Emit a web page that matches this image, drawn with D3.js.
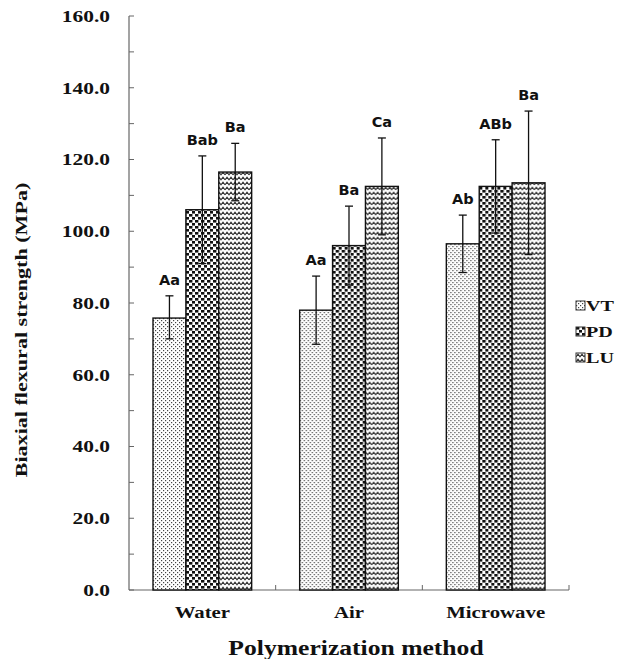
<!DOCTYPE html>
<html>
<head>
<meta charset="utf-8">
<script src="https://cdn.jsdelivr.net/npm/d3@7/dist/d3.min.js"></script>
<style>
  body { margin: 0; background: #fff; }
  svg text { fill: #111; }
  .serif { font-family: 'Liberation Serif', serif; font-weight: bold; }
</style>
</head>
<body>
<div id="chart"></div>
<script>
// ---------------- data ----------------
var methods = ["Water", "Air", "Microwave"];
var series = ["VT", "PD", "LU"];
var means = {
  VT: [75.8, 78.0, 96.5],
  PD: [106.0, 96.0, 112.5],
  LU: [116.5, 112.5, 113.5]
};
var errUp = {
  VT: [82.0, 87.5, 104.5],
  PD: [121.0, 107.0, 125.5],
  LU: [124.5, 126.0, 133.5]
};
var errLow = {
  VT: [70.0, 68.5, 88.5],
  PD: [91.0, 85.0, 99.5],
  LU: [108.5, 99.0, 93.5]
};
var letters = {
  VT: ["Aa", "Aa", "Ab"],
  PD: ["Bab", "Ba", "ABb"],
  LU: ["Ba", "Ca", "Ba"]
};
var yTicks = [0, 20, 40, 60, 80, 100, 120, 140, 160];

// ---------------- layout ----------------
var W = 633, H = 659;
var margin = {top: 16, right: 64, bottom: 69, left: 129};
var width = W - margin.left - margin.right,
    height = H - margin.top - margin.bottom;
var stretch = 1.3; // the serif text of the original is drawn wide

var svg = d3.select("#chart").append("svg")
    .attr("width", W).attr("height", H);

// patterns
var defs = svg.append("defs");
var pVT = defs.append("pattern").attr("id", "pat-VT")
    .attr("patternUnits", "userSpaceOnUse").attr("width", 4).attr("height", 4);
pVT.append("rect").attr("width", 4).attr("height", 4).attr("fill", "#fff");
pVT.append("rect").attr("x", 0).attr("y", 0).attr("width", 1.2).attr("height", 1.2).attr("fill", "#444");
pVT.append("rect").attr("x", 2).attr("y", 2).attr("width", 1.2).attr("height", 1.2).attr("fill", "#444");

var pPD = defs.append("pattern").attr("id", "pat-PD")
    .attr("patternUnits", "userSpaceOnUse").attr("width", 6).attr("height", 6);
pPD.append("rect").attr("width", 6).attr("height", 6).attr("fill", "#fff");
pPD.append("rect").attr("x", 0).attr("y", 0).attr("width", 3.4).attr("height", 2.6).attr("fill", "#111");
pPD.append("rect").attr("x", 3).attr("y", 3).attr("width", 3.4).attr("height", 2.6).attr("fill", "#111");

var pLU = defs.append("pattern").attr("id", "pat-LU")
    .attr("patternUnits", "userSpaceOnUse").attr("width", 8).attr("height", 5);
pLU.append("rect").attr("width", 8).attr("height", 5).attr("fill", "#fff");
pLU.append("path").attr("d", "M0,3.8 L2,1.2 L4,3.8 L6,1.2 L8,3.8")
    .attr("fill", "none").attr("stroke", "#333").attr("stroke-width", 1.1);

var g = svg.append("g")
    .attr("transform", "translate(" + margin.left + "," + margin.top + ")");

var x0 = d3.scaleBand().domain(methods).range([0, width]).paddingInner(0).paddingOuter(0);
var x1 = d3.scaleBand().domain(series).range([24, x0.bandwidth() - 24]);
var y = d3.scaleLinear().domain([0, 160]).range([height, 0]);

// y axis: ticks every 10 inside, labels every 20
var yMinor = d3.range(0, 161, 10);
g.append("g").selectAll("line").data(yMinor).enter().append("line")
    .attr("x1", 0).attr("x2", 5)
    .attr("y1", function (d) { return y(d); })
    .attr("y2", function (d) { return y(d); })
    .attr("stroke", "#666").attr("stroke-width", 1);
g.append("line").attr("x1", 0).attr("x2", 0).attr("y1", y(0)).attr("y2", y(160))
    .attr("stroke", "#666").attr("stroke-width", 1.2);
g.append("g").selectAll("text").data(yTicks).enter().append("text")
    .attr("class", "serif")
    .attr("transform", function (d) { return "translate(-19," + y(d) + ") scale(" + stretch + ",1)"; })
    .attr("dy", "0.35em").attr("text-anchor", "end")
    .style("font-size", "16.5px")
    .text(function (d) { return d3.format(".1f")(d); });

// x axis
g.append("line").attr("x1", 0).attr("x2", width).attr("y1", y(0)).attr("y2", y(0))
    .attr("stroke", "#666").attr("stroke-width", 1.2);
g.append("g").selectAll("line").data(methods).enter().append("line")
    .attr("x1", function (d) { return x0(d) + x0.bandwidth(); })
    .attr("x2", function (d) { return x0(d) + x0.bandwidth(); })
    .attr("y1", y(0)).attr("y2", y(0) - 5)
    .attr("stroke", "#666");
g.append("g").selectAll("text").data(methods).enter().append("text")
    .attr("class", "serif")
    .attr("transform", function (d) {
      return "translate(" + (x0(d) + x0.bandwidth() / 2) + "," + (height + 28) + ") scale(" + stretch + ",1)";
    })
    .attr("text-anchor", "middle")
    .style("font-size", "16px")
    .text(function (d) { return d; });

// bars
var groups = g.selectAll(".grp").data(methods).enter().append("g")
    .attr("class", "grp")
    .attr("transform", function (d) { return "translate(" + x0(d) + ",0)"; });

series.forEach(function (s) {
  groups.append("rect")
      .attr("x", x1(s))
      .attr("width", x1.bandwidth())
      .attr("y", function (d, i) { return y(means[s][i]); })
      .attr("height", function (d, i) { return y(0) - y(means[s][i]); })
      .attr("fill", "url(#pat-" + s + ")")
      .attr("stroke", "#111").attr("stroke-width", 1.4);
});

// error bars + letters
series.forEach(function (s) {
  var cx = x1(s) + x1.bandwidth() / 2;
  groups.append("line")
      .attr("x1", cx).attr("x2", cx)
      .attr("y1", function (d, i) { return y(errUp[s][i]); })
      .attr("y2", function (d, i) { return y(errLow[s][i]); })
      .attr("stroke", "#111").attr("stroke-width", 1.3);
  groups.append("line")
      .attr("x1", cx - 4).attr("x2", cx + 4)
      .attr("y1", function (d, i) { return y(errUp[s][i]); })
      .attr("y2", function (d, i) { return y(errUp[s][i]); })
      .attr("stroke", "#111").attr("stroke-width", 1.3);
  groups.append("line")
      .attr("x1", cx - 4).attr("x2", cx + 4)
      .attr("y1", function (d, i) { return y(errLow[s][i]); })
      .attr("y2", function (d, i) { return y(errLow[s][i]); })
      .attr("stroke", "#111").attr("stroke-width", 1.3);
  groups.append("text")
      .attr("x", cx)
      .attr("y", function (d, i) { return y(errUp[s][i]) - 11; })
      .attr("text-anchor", "middle")
      .style("font-family", "'DejaVu Sans', sans-serif").style("font-weight", "bold")
      .style("font-size", "14.5px")
      .text(function (d, i) { return letters[s][i]; });
});

// axis titles
svg.append("text")
    .attr("class", "serif")
    .attr("transform", "translate(27," + 330 + ") rotate(-90) scale(" + stretch + ",1)")
    .attr("text-anchor", "middle")
    .style("font-size", "17px")
    .text("Biaxial flexural strength (MPa)");
svg.append("text")
    .attr("class", "serif")
    .attr("transform", "translate(356," + (H - 4) + ") scale(1.22,1)")
    .attr("text-anchor", "middle")
    .style("font-size", "21px")
    .text("Polymerization method");

// legend
var legend = svg.append("g").attr("transform", "translate(576,301)");
series.forEach(function (s, i) {
  var lg = legend.append("g").attr("transform", "translate(0," + (i * 26) + ")");
  lg.append("rect").attr("width", 9).attr("height", 9)
      .attr("fill", "url(#pat-" + s + ")").attr("stroke", "#333").attr("stroke-width", 1);
  lg.append("text").attr("class", "serif")
      .attr("transform", "translate(10,10) scale(" + stretch + ",1)")
      .style("font-size", "15.5px")
      .text(s);
});
</script>
</body>
</html>
